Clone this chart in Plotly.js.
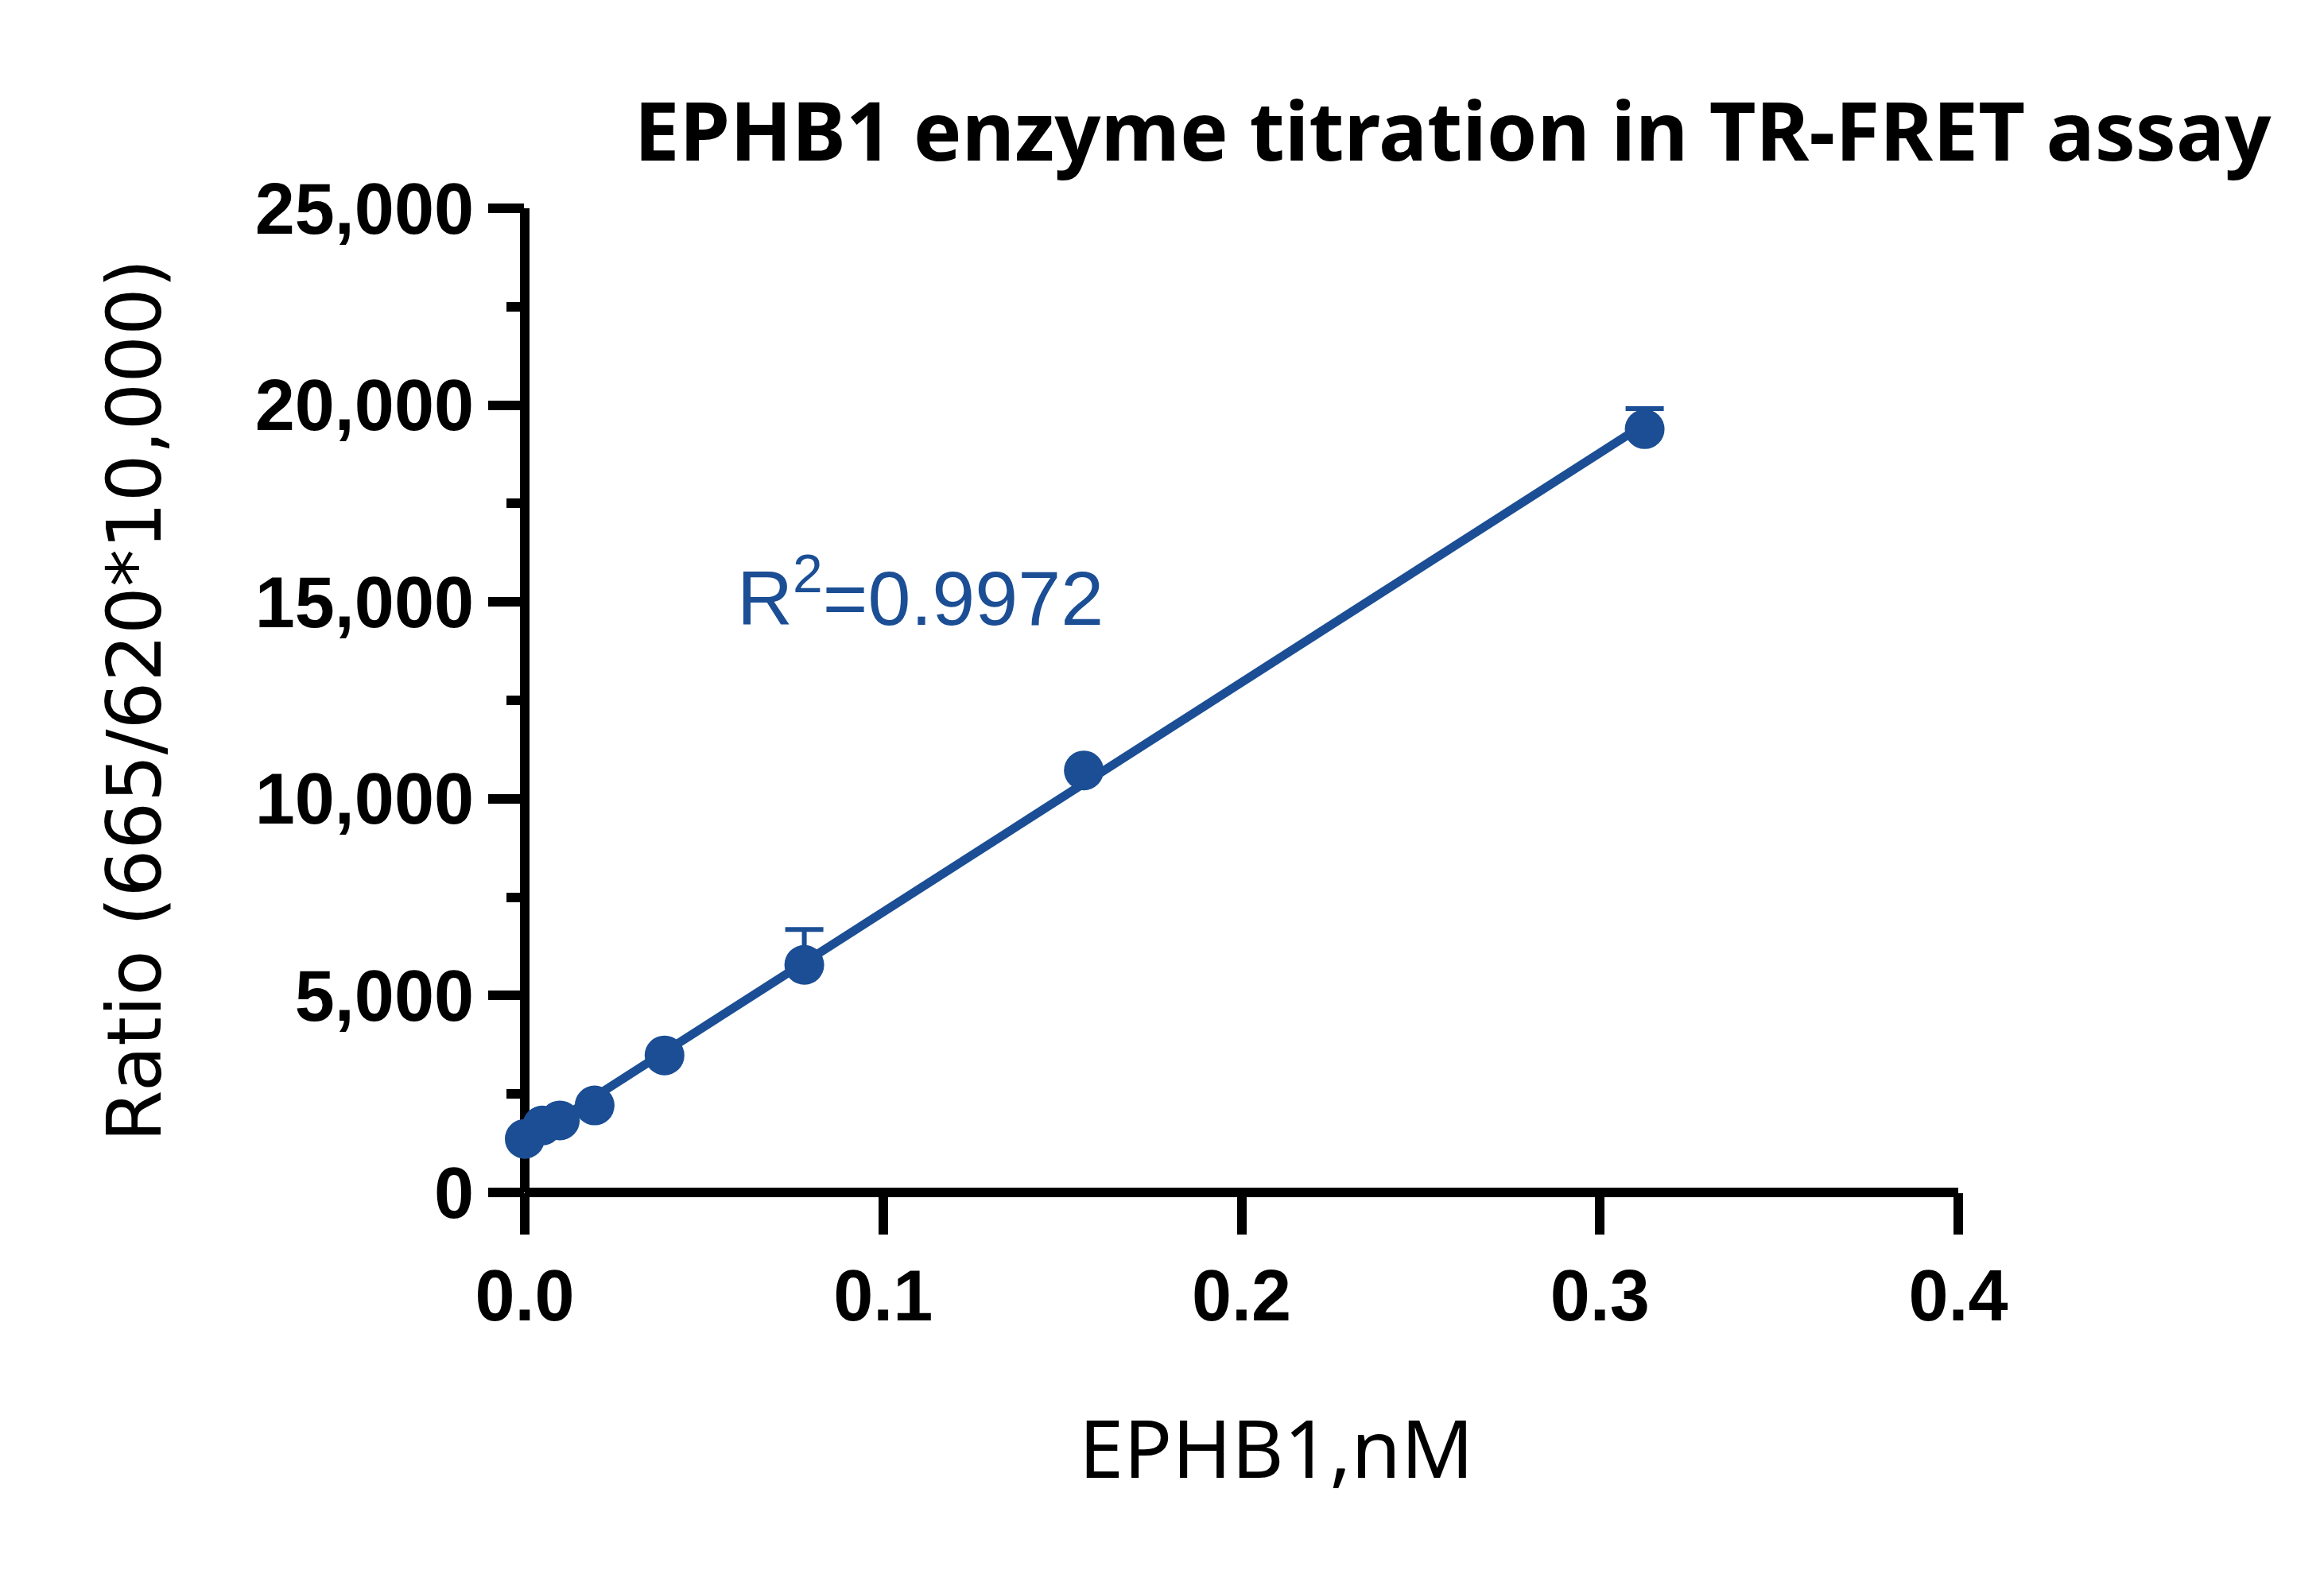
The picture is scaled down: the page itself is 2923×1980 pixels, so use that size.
<!DOCTYPE html>
<html>
<head>
<meta charset="utf-8">
<script src="https://cdn.plot.ly/plotly-3.0.1.min.js"></script>
<style>
  body { margin: 0; background: #fff; }
  #plot { width: 2923px; height: 1980px; }
</style>
</head>
<body>
<div id="plot"></div>
<script>
// EPHB1 concentration (nM), 2-fold dilution series
const concNM = [0, 0.0049, 0.0098, 0.0195, 0.039, 0.078, 0.156, 0.3125]
// TR-FRET ratio (665/620*10,000), mean and upper SD
const ratio = [1360, 1700, 1830, 2210, 3480, 5780, 10720, 19390]
const ratioSD = [0, 0, 0, 0, 0, 900, 0, 520]
const rSquared = '0.9972'
const xTicks = [0, 0.1, 0.2, 0.3, 0.4]
const yTicks = [0, 5000, 10000, 15000, 20000, 25000]

const blue = '#1b4e94'

function linearFit(xs, ys)
{
    var n = xs.length
    var sx = 0, sy = 0, sxx = 0, sxy = 0
    for (var i = 0; i < n; i++) {
        sx += xs[i]
        sy += ys[i]
        sxx += xs[i] * xs[i]
        sxy += xs[i] * ys[i]
    }
    var slope = (n * sxy - sx * sy) / (n * sxx - sx * sx)
    var intercept = (sy - slope * sx) / n
    return {slope: slope, intercept: intercept}
}

function draw()
{
    var data = []
    const fit = linearFit(concNM, ratio)
    const xFit = [Math.min.apply(null, concNM), Math.max.apply(null, concNM)]
    const yFit = xFit.map(function (x) {
        return fit.intercept + fit.slope * x
    })

    data.push({
        x: xFit,
        y: yFit,
        mode: 'lines',
        type: 'scatter',
        line: {color: blue, width: 11},
        cliponaxis: false,
        hoverinfo: 'skip'
    })

    data.push({
        x: concNM,
        y: ratio,
        mode: 'markers',
        type: 'scatter',
        marker: {color: blue, size: 50, line: {width: 0}},
        error_y: {
            type: 'data',
            symmetric: false,
            array: ratioSD,
            arrayminus: ratioSD.map(function () { return 0 }),
            color: blue,
            thickness: 6,
            width: 24
        },
        cliponaxis: false
    })

    const tickFont = {family: 'Liberation Sans, Arial, sans-serif', size: 90, weight: 700, color: '#000'}

    const layout = {
        width: 2923,
        height: 1980,
        margin: {l: 660, r: 460, t: 262, b: 480},
        paper_bgcolor: '#fff',
        plot_bgcolor: '#fff',
        showlegend: false,
        title: {
            text: 'EPHB1 enzyme titration in TR-FRET assay',
            font: {family: 'Noto Sans, sans-serif', size: 102, weight: 700, color: '#000'},
            xref: 'container', x: 1827 / 2923, xanchor: 'center',
            yref: 'container', y: 1 - 166 / 1980, yanchor: 'middle'
        },
        xaxis: {
            range: [0, 0.4],
            tickmode: 'array',
            tickvals: xTicks,
            ticktext: xTicks.map(function (v) { return v.toFixed(1) }),
            ticks: 'outside',
            ticklen: 52,
            tickwidth: 12,
            tickcolor: '#000',
            tickfont: tickFont,
            showgrid: false,
            showline: false,
            zeroline: true,
            zerolinewidth: 12,
            zerolinecolor: '#000',
            fixedrange: true
        },
        yaxis: {
            range: [0, 25000],
            tickmode: 'array',
            tickvals: yTicks,
            tickformat: ',',
            ticks: 'outside',
            ticklen: 45,
            tickwidth: 12,
            tickcolor: '#000',
            tickfont: tickFont,
            minor: {dtick: 2500, ticks: 'outside', ticklen: 22, tickwidth: 12, tickcolor: '#000', showgrid: false},
            showgrid: false,
            showline: false,
            zeroline: true,
            zerolinewidth: 12,
            zerolinecolor: '#000',
            title: {
                text: 'Ratio (665/620*10,000)',
                font: {family: 'DejaVu Sans, sans-serif', size: 94, color: '#000'},
                standoff: 86
            },
            fixedrange: true
        },
        annotations: [
            {
                text: 'R<sup>2</sup>=' + rSquared,
                xref: 'paper', x: (925 - 660) / 1803, xanchor: 'left',
                yref: 'paper', y: (1500 - 745) / 1238, yanchor: 'middle',
                showarrow: false,
                font: {family: 'Liberation Sans, Arial, sans-serif', size: 97, color: blue}
            },
            {
                text: 'EPHB1,nM',
                xref: 'paper', x: (1605 - 660) / 1803, xanchor: 'center',
                yref: 'paper', y: (1500 - 1820) / 1238, yanchor: 'middle',
                showarrow: false,
                font: {family: 'Noto Sans, sans-serif', size: 101, color: '#000'}
            }
        ]
    }

    Plotly.newPlot('plot', data, layout, {displayModeBar: false, staticPlot: true})
}

draw()
</script>
</body>
</html>
